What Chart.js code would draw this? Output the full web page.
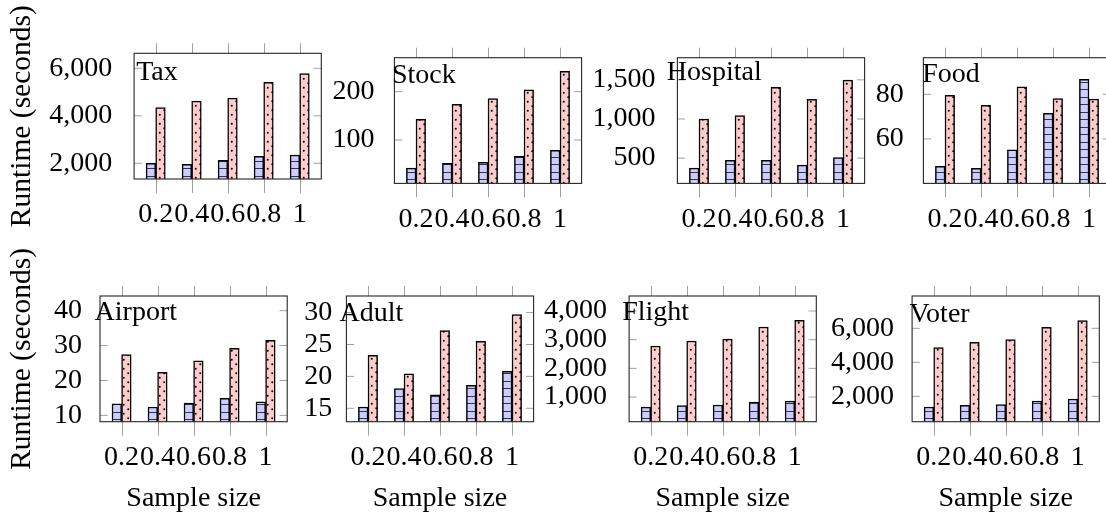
<!DOCTYPE html>
<html><head><meta charset="utf-8">
<script src="https://cdn.jsdelivr.net/npm/chart.js@4.4.1/dist/chart.umd.min.js"></script>
<style>
html,body{margin:0;padding:0;width:1106px;height:514px;overflow:hidden;background:#fff;position:relative}
canvas{position:absolute}
</style></head><body>
<script>
// ---- data ----
const sampleSizes = [0.2, 0.4, 0.6, 0.8, 1];
const sampleLabels = ['0.2', '0.4', '0.6', '0.8', '1'];
const panelNames = ['Tax', 'Stock', 'Hospital', 'Food', 'Airport', 'Adult', 'Flight', 'Voter'];

const taxBlue = [2000, 1958, 2126, 2294, 2350];
const taxRed = [4350, 4615, 4742, 5413, 5777];
const stockBlue = [42, 51.7, 53.8, 66.2, 78.6];
const stockRed = [142.7, 173.8, 185.5, 204, 242];
const hospitalBlue = [372, 470, 470, 410, 508];
const hospitalRed = [1000, 1043, 1404, 1251, 1496];
const foodBlue = [47.8, 46.9, 55.1, 71.5, 86.7];
const foodRed = [79.6, 75.1, 83.4, 78.1, 77.9];
const airportBlue = [13.3, 12.4, 13.5, 14.9, 13.9];
const airportRed = [27.4, 22.3, 25.6, 29.2, 31.5];
const adultBlue = [15.2, 18.1, 17.1, 18.6, 20.8];
const adultRed = [23.3, 20.4, 27.2, 25.5, 29.7];
const flightBlue = [651, 698, 721, 826, 860];
const flightRed = [2779, 2953, 3023, 3442, 3674];
const voterBlue = [1373, 1471, 1510, 1725, 1843];
const voterRed = [4863, 5176, 5333, 6059, 6451];

const taxYTicks = [2000, 4000, 6000];
const stockYTicks = [100, 200];
const hospitalYTicks = [500, 1000, 1500];
const foodYTicks = [60, 80];
const airportYTicks = [10, 20, 30, 40];
const adultYTicks = [15, 20, 25, 30];
const flightYTicks = [1000, 2000, 3000, 4000];
const voterYTicks = [2000, 4000, 6000];

const yAxisTitle = 'Runtime (seconds)';
const xAxisTitle = 'Sample size';

const blueSeries = [taxBlue, stockBlue, hospitalBlue, foodBlue, airportBlue, adultBlue, flightBlue, voterBlue];
const redSeries = [taxRed, stockRed, hospitalRed, foodRed, airportRed, adultRed, flightRed, voterRed];
const yTickSets = [taxYTicks, stockYTicks, hospitalYTicks, foodYTicks, airportYTicks, adultYTicks, flightYTicks, voterYTicks];

// ---- layout (positions / axis limits) ----
const boxes = [
  {left:134.1, top:53.3, yMin:1339, yMax:6632, gap:13.8, tdx:2.1,  tdy:26.7, col0:true,  row:0},
  {left:394.4, top:57.7, yMin:10.3, yMax:270.3, gap:11.8, tdx:-2.5, tdy:25,   col0:false, row:0},
  {left:677.4, top:57.7, yMin:176.6,yMax:1783, gap:13.8, tdx:-10.6,tdy:22.3, col0:false, row:0},
  {left:923.4, top:57.7, yMin:40.1, yMax:96.4, gap:11.6, tdx:-1.2, tdy:24.6, col0:false, row:0},
  {left:100,   top:296,  yMin:8.19, yMax:44.2, gap:9.9,  tdx:-5.4, tdy:24,   col0:true,  row:1},
  {left:346.4, top:296,  yMin:12.9, yMax:32.6, gap:6.2,  tdx:-6.8, tdy:24.7, col0:false, row:1},
  {left:629.1, top:296,  yMin:140,  yMax:4523, gap:14,   tdx:-6.9, tdy:24,   col0:false, row:1},
  {left:912.1, top:296,  yMin:510,  yMax:7902, gap:10.2, tdx:-2.6, tdy:25.7, col0:false, row:1},
];
const BOX_W = 187.2, BOX_H = 125.7;
const X_MIN = 0.08, X_MAX = 1.12;
const FONT = "'Liberation Serif', 'Times New Roman', serif";
const FS = 28;
const FS_YTITLE = 29.5;

function makeBluePattern() {
  const c = document.createElement('canvas'); c.width = 8; c.height = 15;
  const g = c.getContext('2d');
  g.fillStyle = '#ccccff'; g.fillRect(0, 0, 8, 15);
  g.strokeStyle = '#33334a'; g.lineWidth = 1;
  g.beginPath(); g.moveTo(0, 3.5); g.lineTo(8, 3.5); g.moveTo(0, 11.5); g.lineTo(8, 11.5); g.stroke();
  return g.createPattern(c, 'repeat');
}
function makeRedPattern() {
  const c = document.createElement('canvas'); c.width = 9; c.height = 9;
  const g = c.getContext('2d');
  g.fillStyle = '#ffcccc'; g.fillRect(0, 0, 9, 9);
  g.fillStyle = '#000';
  g.beginPath(); g.arc(2.25, 2.25, 1.0, 0, Math.PI * 2); g.fill();
  g.beginPath(); g.arc(6.75, 6.75, 1.0, 0, Math.PI * 2); g.fill();
  return g.createPattern(c, 'repeat');
}
const bluePat = makeBluePattern();
const redPat = makeRedPattern();

function fmt(v) { return String(v).replace(/\B(?=(\d{3})+(?!\d))/g, ','); }
function zeroPad(s) { s.paddingTop = 0; s.paddingBottom = 0; s.paddingLeft = 0; s.paddingRight = 0; }

panelNames.forEach((name, idx) => {
  const b = boxes[idx];
  const Lwant = b.col0 ? b.left : 125;
  const cLeft = Math.floor(b.left - Lwant);
  const L = b.left - cLeft;
  const Twant = b.col0 ? (b.row === 0 ? b.top : 60) : 16;
  const cTop = Math.floor(b.top - Twant);
  const T = b.top - cTop;
  const W = Math.ceil(L + BOX_W + 12);
  const R = W - L - BOX_W;
  const B = b.row === 0 ? 60 : 93.6;
  const H = Math.ceil(T + BOX_H + B);
  const PB = H - T - BOX_H - B;

  const cv = document.createElement('canvas');
  cv.width = W; cv.height = H;
  cv.style.left = cLeft + 'px'; cv.style.top = cTop + 'px';
  cv.style.width = W + 'px'; cv.style.height = H + 'px';
  document.body.appendChild(cv);

  const decor = {
    id: 'decor' + idx,
    afterDraw(chart) {
      const {ctx, chartArea: a, scales: {x, y}} = chart;
      ctx.save();
      ctx.strokeStyle = '#a0a0a0'; ctx.lineWidth = 1;
      ctx.beginPath();
      x.ticks.forEach(t => {
        const px = Math.round(x.getPixelForValue(t.value)) + 0.5;
        ctx.moveTo(px, a.top - 10); ctx.lineTo(px, a.top);
        ctx.moveTo(px, a.bottom); ctx.lineTo(px, a.bottom + 14);
      });
      y.ticks.forEach(t => {
        const py = y.getPixelForValue(t.value);
        ctx.moveTo(a.left, py); ctx.lineTo(a.left + 7.7, py);
        ctx.moveTo(a.right, py); ctx.lineTo(a.right - 7.7, py);
      });
      ctx.stroke();
      ctx.strokeStyle = '#262626'; ctx.lineWidth = 1.1;
      ctx.strokeRect(a.left, a.top, a.right - a.left, a.bottom - a.top);
      ctx.fillStyle = '#000';
      ctx.font = FS + 'px ' + FONT;
      ctx.textBaseline = 'alphabetic'; ctx.textAlign = 'left';
      ctx.fillText(name, a.left + b.tdx, a.top + b.tdy);
      ctx.restore();
    }
  };

  new Chart(cv, {
    type: 'bar',
    data: {
      datasets: [
        {
          data: sampleSizes.map((s, i) => ({x: s, y: blueSeries[idx][i]})),
          backgroundColor: bluePat, borderColor: '#000', borderWidth: 1.5,
          barThickness: 9.6
        },
        {
          data: sampleSizes.map((s, i) => ({x: s, y: redSeries[idx][i]})),
          backgroundColor: redPat, borderColor: '#000', borderWidth: 1.5,
          barThickness: 9.6
        }
      ]
    },
    options: {
      responsive: false,
      animation: false,
      devicePixelRatio: 1,
      layout: {padding: {left: 0, top: T, right: R, bottom: PB}},
      plugins: {legend: {display: false}, tooltip: {enabled: false}},
      scales: {
        x: {
          type: 'linear', offset: false, min: X_MIN, max: X_MAX,
          grid: {display: false}, border: {display: false},
          afterBuildTicks: s => { s.ticks = sampleSizes.map(v => ({value: v})); },
          afterFit: s => { s.height = B; zeroPad(s); },
          ticks: {
            autoSkip: false, maxRotation: 0, minRotation: 0, padding: 11,
            color: '#000', font: {family: FONT, size: FS},
            callback: (v, i) => sampleLabels[i]
          },
          title: {
            display: b.row === 1, text: xAxisTitle, color: '#000',
            font: {family: FONT, size: FS}, padding: {top: 0, bottom: 0}
          }
        },
        y: {
          type: 'linear', min: b.yMin, max: b.yMax,
          grid: {display: false}, border: {display: false},
          afterBuildTicks: s => { s.ticks = yTickSets[idx].map(v => ({value: v})); },
          afterFit: s => { s.width = L; zeroPad(s); },
          ticks: {
            autoSkip: false, padding: b.gap, color: '#000',
            font: {family: FONT, size: FS},
            callback: v => fmt(v)
          },
          title: {
            display: b.col0, text: yAxisTitle, color: '#000',
            font: {family: FONT, size: FS_YTITLE}, padding: {top: 5, bottom: 0}
          }
        }
      }
    },
    plugins: [decor]
  });
});
</script>
</body></html>
